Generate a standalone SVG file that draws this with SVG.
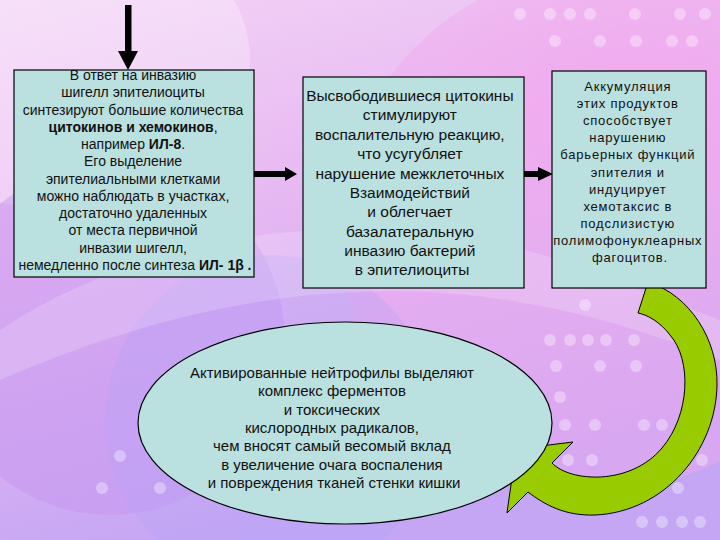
<svg xmlns="http://www.w3.org/2000/svg" width="720" height="540" viewBox="0 0 720 540">
  <defs>
    <linearGradient id="bg" x1="0" y1="0" x2="0.35" y2="1">
      <stop offset="0" stop-color="#F4D4F6"/>
      <stop offset="0.45" stop-color="#E6B8F2"/>
      <stop offset="1" stop-color="#C4A6F4"/>
    </linearGradient>
    <radialGradient id="pinkGlow" cx="0.5" cy="0.5" r="0.5">
      <stop offset="0" stop-color="#F4A6EE" stop-opacity="0.75"/>
      <stop offset="1" stop-color="#F4A6EE" stop-opacity="0"/>
    </radialGradient>
    <style>
      .box { fill: #BBE0E0; stroke: #000; stroke-width: 1.2; }
      .t { font-family: "Liberation Sans", Arial, sans-serif; fill: #111; text-anchor: middle; }
      .t1 { font-size: 14px; }
      .t2 { font-size: 15.5px; }
      .t3 { font-size: 13px; letter-spacing: 0.8px; }
      .t4 { font-size: 15px; }
      .b { font-weight: bold; }
      .arr { fill: #000; }
      .dot { fill: #FFFFFF; opacity: 0.35; }
    </style>
  </defs>

  <!-- background -->
  <rect x="0" y="0" width="720" height="540" fill="url(#bg)"/>
  <circle cx="600" cy="230" r="260" fill="#F2A8EE" opacity="0.45"/>
  <ellipse cx="640" cy="120" rx="220" ry="160" fill="url(#pinkGlow)"/>
  <ellipse cx="60" cy="60" rx="190" ry="150" fill="#FFFFFF" opacity="0.28"/>
  <circle cx="110" cy="340" r="175" fill="#C592F0" opacity="0.45"/>
  <circle cx="270" cy="420" r="165" fill="#B8A2F6" opacity="0.35"/>
  <path d="M0,330 C120,250 330,190 560,260 L720,320 L720,360 C520,280 300,250 0,380 Z" fill="#FFFFFF" opacity="0.18"/>
  <g id="bokeh">
    <circle class="dot" cx="520" cy="14" r="6"/><circle class="dot" cx="550" cy="14" r="6"/><circle class="dot" cx="570" cy="14" r="6"/><circle class="dot" cx="590" cy="14" r="6"/><circle class="dot" cx="635" cy="14" r="6"/><circle class="dot" cx="680" cy="14" r="6"/><circle class="dot" cx="705" cy="14" r="6"/>
    <circle class="dot" cx="555" cy="41" r="6"/><circle class="dot" cx="600" cy="41" r="6"/><circle class="dot" cx="636" cy="41" r="6"/><circle class="dot" cx="672" cy="41" r="6"/><circle class="dot" cx="692" cy="41" r="6"/>
    <circle class="dot" cx="585" cy="305" r="6"/><circle class="dot" cx="550" cy="340" r="6"/><circle class="dot" cx="570" cy="340" r="6"/><circle class="dot" cx="588" cy="340" r="6"/><circle class="dot" cx="606" cy="340" r="6"/><circle class="dot" cx="634" cy="340" r="6"/>
    <circle class="dot" cx="556" cy="366" r="6"/><circle class="dot" cx="600" cy="366" r="6"/><circle class="dot" cx="636" cy="366" r="6"/><circle class="dot" cx="560" cy="397" r="6"/><circle class="dot" cx="565" cy="425" r="6"/><circle class="dot" cx="595" cy="425" r="6"/><circle class="dot" cx="644" cy="425" r="6"/><circle class="dot" cx="662" cy="425" r="6"/>
    <circle class="dot" cx="568" cy="460" r="6"/><circle class="dot" cx="592" cy="460" r="6"/><circle class="dot" cx="702" cy="460" r="6"/><circle class="dot" cx="678" cy="488" r="6"/>
    <circle class="dot" cx="642" cy="522" r="6"/><circle class="dot" cx="662" cy="522" r="6"/><circle class="dot" cx="682" cy="522" r="6"/><circle class="dot" cx="700" cy="522" r="6"/>
    <circle class="dot" cx="120" cy="456" r="6"/><circle class="dot" cx="102" cy="488" r="6"/><circle class="dot" cx="160" cy="488" r="6"/>
  </g>

  <!-- connectors -->
  <g id="connectors">
    <path class="arr" d="M125,5 L131.5,5 L131.5,51 L138,51 L128,70 L118,51 L125,51 Z"/>
    <path class="arr" d="M250,171 L285,171 L285,167 L297,174 L285,181 L285,177 L250,177 Z"/>
    <path class="arr" d="M522,171 L538,171 L538,167 L553,174 L538,181 L538,177 L522,177 Z"/>
    <path id="curved-arrow" d="M648,282 C690,295 718,340 717,385 C716,450 665,512 595,515 C565,516 545,505 528,492 L507,513 L516,449 L573,442 L552,463 C570,482 630,486 662,448 C690,415 692,360 670,335 C660,322 648,315 638,313 Z" fill="#99CC00" stroke="#000" stroke-width="1"/>
  </g>

  <!-- node 1 -->
  <g id="node1">
    <rect class="box" x="14" y="70" width="240" height="207"/>
    <text class="t t1">
      <tspan x="135" y="80">В ответ на инвазию</tspan>
      <tspan x="135" y="97.3">шигелл эпителиоциты</tspan>
      <tspan x="135" y="114.5">синтезируют большие количества</tspan>
      <tspan x="135" y="131.8"><tspan class="b">цитокинов и хемокинов</tspan>,</tspan>
      <tspan x="135" y="149.1">например <tspan class="b">ИЛ-8</tspan>.</tspan>
      <tspan x="135" y="166.4">Его выделение</tspan>
      <tspan x="135" y="183.6">эпителиальными клетками</tspan>
      <tspan x="135" y="200.9">можно наблюдать в участках,</tspan>
      <tspan x="135" y="218.2">достаточно удаленных</tspan>
      <tspan x="135" y="235.4">от места первичной</tspan>
      <tspan x="135" y="252.7">инвазии шигелл,</tspan>
      <tspan x="135" y="270">немедленно после синтеза <tspan class="b">ИЛ- 1β .</tspan></tspan>
    </text>
  </g>

  <!-- node 2 -->
  <g id="node2">
    <rect class="box" x="303" y="77" width="221" height="211"/>
    <text class="t t2">
      <tspan x="412" y="101">Высвободившиеся цитокины</tspan>
      <tspan x="412" y="120.4">стимулируют</tspan>
      <tspan x="412" y="139.7">воспалительную реакцию,</tspan>
      <tspan x="412" y="159.1">что усугубляет</tspan>
      <tspan x="412" y="178.5">нарушение межклеточных</tspan>
      <tspan x="412" y="197.9">Взаимодействий</tspan>
      <tspan x="412" y="217.2">и облегчает</tspan>
      <tspan x="412" y="236.6">базалатеральную</tspan>
      <tspan x="412" y="256">инвазию бактерий</tspan>
      <tspan x="412" y="275.3">в эпителиоциты</tspan>
    </text>
  </g>

  <!-- node 3 -->
  <g id="node3">
    <rect class="box" x="552" y="71" width="154" height="217"/>
    <text class="t t3">
      <tspan x="630" y="91">Аккумуляция</tspan>
      <tspan x="630" y="108.1">этих продуктов</tspan>
      <tspan x="630" y="125.2">способствует</tspan>
      <tspan x="630" y="142.3">нарушению</tspan>
      <tspan x="630" y="159.4">барьерных функций</tspan>
      <tspan x="630" y="176.5">эпителия и</tspan>
      <tspan x="630" y="193.6">индуцирует</tspan>
      <tspan x="630" y="210.7">хемотаксис в</tspan>
      <tspan x="630" y="227.8">подслизистую</tspan>
      <tspan x="630" y="244.9">полимофонуклеарных</tspan>
      <tspan x="630" y="262">фагоцитов.</tspan>
    </text>
  </g>

  <!-- node 4 -->
  <g id="node4">
    <ellipse class="box" cx="345" cy="423" rx="207" ry="101"/>
    <text class="t t4">
      <tspan x="334" y="378">Активированные нейтрофилы выделяют</tspan>
      <tspan x="334" y="396.3">комплекс ферментов</tspan>
      <tspan x="334" y="414.7">и токсических</tspan>
      <tspan x="334" y="433">кислородных радикалов,</tspan>
      <tspan x="334" y="451.3">чем вносят самый весомый вклад</tspan>
      <tspan x="334" y="469.7">в увеличение очага воспаления</tspan>
      <tspan x="334" y="488">и повреждения тканей стенки кишки</tspan>
    </text>
  </g>
</svg>
